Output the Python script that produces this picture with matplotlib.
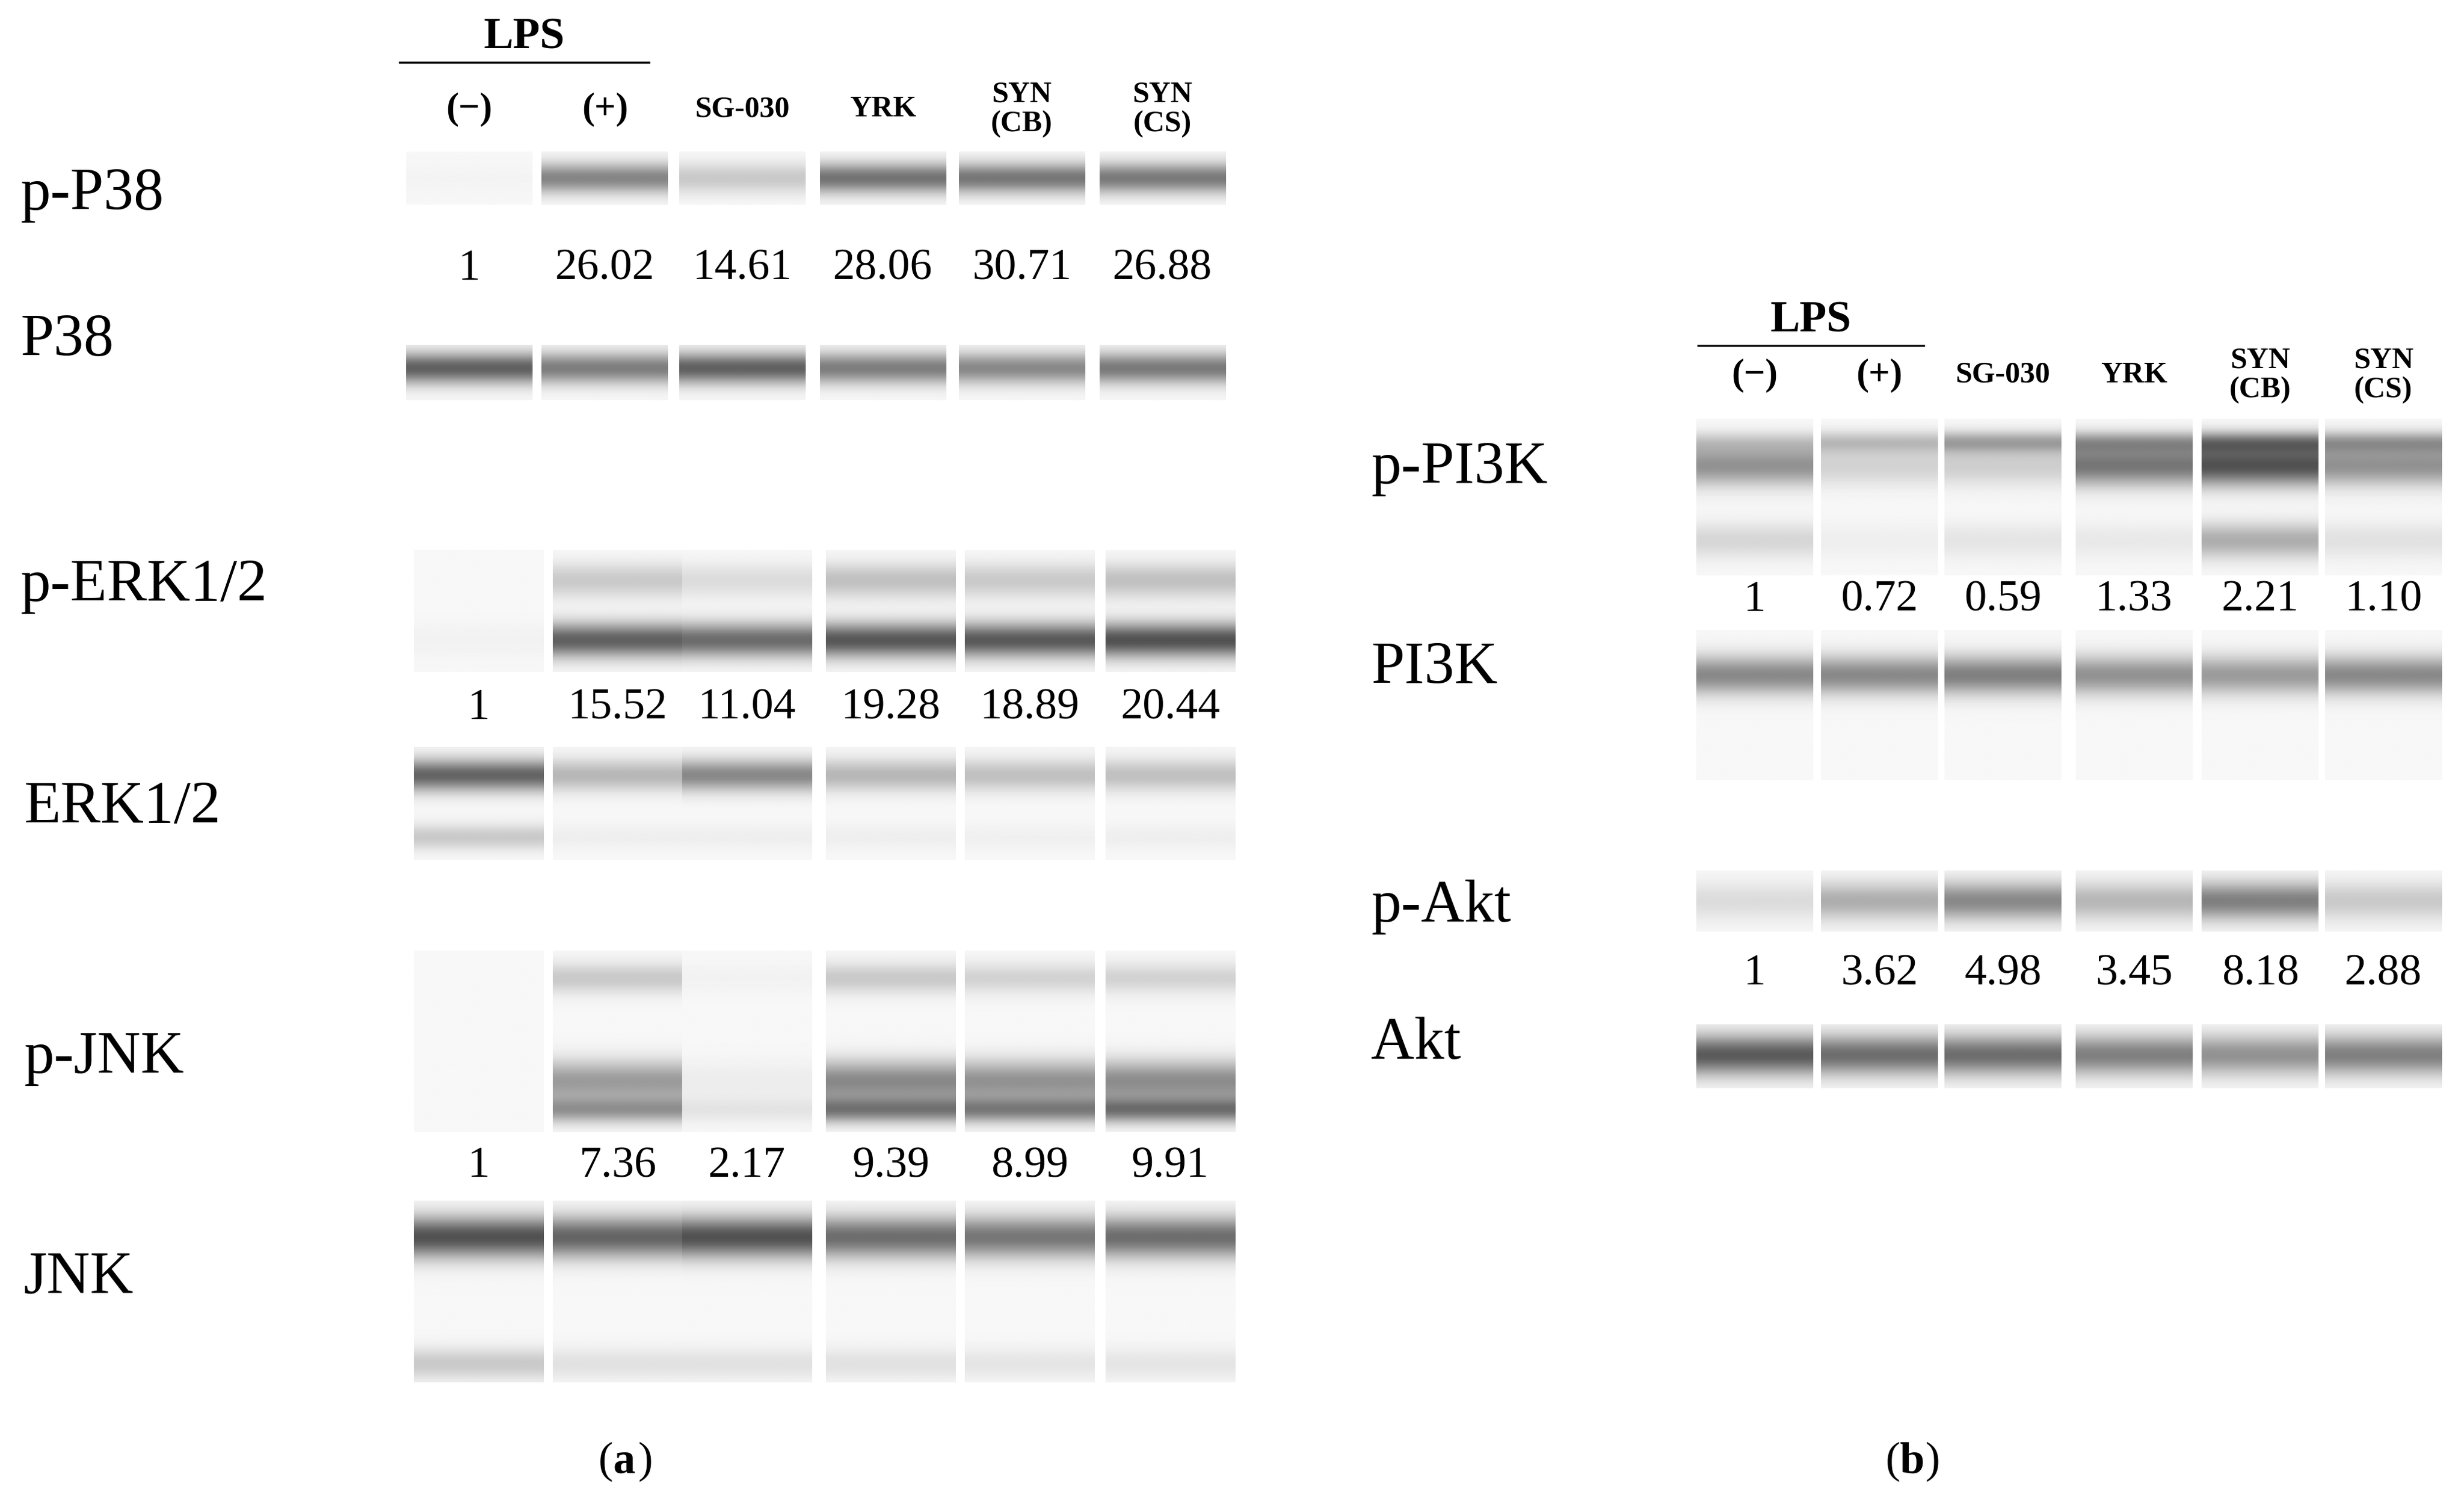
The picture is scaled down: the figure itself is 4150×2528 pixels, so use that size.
import numpy as np
import matplotlib
matplotlib.use("Agg")
import matplotlib.pyplot as plt

plt.rcParams['font.family'] = ['Liberation Serif', 'DejaVu Serif']

W, H = 1560, 960
S = 4150 / W

lanes_a = ["(\u2212)", "(+)", "SG-030", "YRK", "SYN\n(CB)", "SYN\n(CS)"]
quant_pP38 = ["1", "26.02", "14.61", "28.06", "30.71", "26.88"]
quant_pERK = ["1", "15.52", "11.04", "19.28", "18.89", "20.44"]
quant_pJNK = ["1", "7.36", "2.17", "9.39", "8.99", "9.91"]
quant_pPI3K = ["1", "0.72", "0.59", "1.33", "2.21", "1.10"]
quant_pAkt = ["1", "3.62", "4.98", "3.45", "8.18", "2.88"]

# band intensities per lane: (relative position within blot, width, intensities)
pP38 = [(0.5, 0.2, [0.02, 0.62, 0.25, 0.72, 0.7, 0.68])]
P38 = [(0.42, 0.2, [0.82, 0.66, 0.82, 0.66, 0.6, 0.68])]
pERK = [(0.25, 0.1, [0.0, 0.25, 0.15, 0.3, 0.25, 0.3]),
        (0.74, 0.1, [0.03, 0.82, 0.76, 0.87, 0.86, 0.9])]
ERK = [(0.25, 0.1, [0.8, 0.35, 0.6, 0.35, 0.3, 0.3]),
       (0.8, 0.08, [0.25, 0.05, 0.05, 0.05, 0.04, 0.05])]
pJNK = [(0.15, 0.06, [0.0, 0.25, 0.03, 0.25, 0.2, 0.2]),
        (0.72, 0.08, [0.0, 0.5, 0.06, 0.6, 0.55, 0.58]),
        (0.88, 0.05, [0.0, 0.5, 0.1, 0.65, 0.62, 0.68])]
JNK = [(0.2, 0.08, [0.9, 0.8, 0.9, 0.75, 0.7, 0.75]),
       (0.9, 0.06, [0.25, 0.12, 0.12, 0.12, 0.1, 0.1])]
pPI3K = [(0.15, 0.05, [0.2, 0.3, 0.45, 0.45, 0.6, 0.45]),
         (0.3, 0.09, [0.55, 0.2, 0.22, 0.7, 0.9, 0.55]),
         (0.78, 0.08, [0.18, 0.05, 0.1, 0.08, 0.4, 0.12])]
PI3K = [(0.3, 0.09, [0.6, 0.6, 0.65, 0.55, 0.5, 0.6])]
pAkt = [(0.5, 0.22, [0.15, 0.4, 0.6, 0.35, 0.65, 0.25])]
Akt = [(0.48, 0.22, [0.85, 0.75, 0.75, 0.65, 0.55, 0.65])]

fig = plt.figure(figsize=(4150 / 100, 2528 / 100), dpi=100)
ax = fig.add_axes([0, 0, 1, 1])
ax.set_xlim(0, W)
ax.set_ylim(H, 0)
ax.axis('off')

def blot(xs, w, y0, y1, bands):
    n = 200
    t = np.linspace(0, 1, n)
    for i, xc in enumerate(xs):
        prof = np.zeros(n)
        for pos, wid, ints in bands:
            prof += ints[i] * np.exp(-0.5 * ((t - pos) / wid) ** 2)
        col = 0.97 - 0.72 * np.clip(prof, 0, 1)
        img = np.tile(col[:, None], (1, 20))
        ax.imshow(img, cmap='gray', vmin=0, vmax=1, aspect='auto',
                  extent=(xc - w / 2, xc + w / 2, y1, y0), interpolation='bilinear')

xa = [297, 383, 470, 559, 647, 736]
xa2 = [303, 391, 473, 564, 652, 741]
xb = [1111, 1190, 1268, 1351, 1431, 1509]

blot(xa, 80, 97, 131, pP38)
blot(xa, 80, 221, 256, P38)
blot(xa2, 82, 352, 430, pERK)
blot(xa2, 82, 478, 550, ERK)
blot(xa2, 82, 608, 724, pJNK)
blot(xa2, 82, 768, 884, JNK)
blot(xb, 74, 268, 368, pPI3K)
blot(xb, 74, 403, 499, PI3K)
blot(xb, 74, 557, 596, pAkt)
blot(xb, 74, 655, 696, Akt)

lab = 38 * S * 0.72
num = 28 * S * 0.72
hdr = 19 * S * 0.72
lps = 28 * S * 0.72

def header(xs, yl, ylps, xl0, xl1):
    ax.text((xl0 + xl1) / 2, ylps, "LPS", ha='center', va='bottom', fontsize=lps, fontweight='bold')
    ax.plot([xl0, xl1], [ylps + 3, ylps + 3], color='black', lw=2.5)
    for i, (x, t) in enumerate(zip(xs, lanes_a)):
        fs = lps * 0.85 if i < 2 else hdr
        ax.text(x, yl, t, ha='center', va='center', fontsize=fs, fontweight='bold', linespacing=1.1)

header(xa, 70, 37, 253, 411)
header(xb, 240, 218, 1075, 1218)

for y, q, xs in [(172, quant_pP38, xa), (453, quant_pERK, xa2), (746, quant_pJNK, xa2),
                 (384, quant_pPI3K, xb), (623, quant_pAkt, xb)]:
    for x, t in zip(xs, q):
        ax.text(x, y, t, ha='center', va='center', fontsize=num)

for t, x, y in [("p-P38", 13, 125), ("P38", 13, 218), ("p-ERK1/2", 13, 375),
                ("ERK1/2", 15, 517), ("p-JNK", 15, 677), ("JNK", 15, 818),
                ("p-PI3K", 868, 300), ("PI3K", 868, 428), ("p-Akt", 868, 580), ("Akt", 868, 668)]:
    ax.text(x, y, t, ha='left', va='center', fontsize=lab)

for cx, letter in [(388, "a"), (1203, "b")]:
    ax.text(cx, 935, "(", ha='right', va='center', fontsize=num)
    ax.text(cx, 935, letter, ha='left', va='center', fontsize=num, fontweight='bold')
    ax.text(cx + 16, 935, ")", ha='left', va='center', fontsize=num)

fig.savefig("out.png", dpi=100, facecolor='white')
